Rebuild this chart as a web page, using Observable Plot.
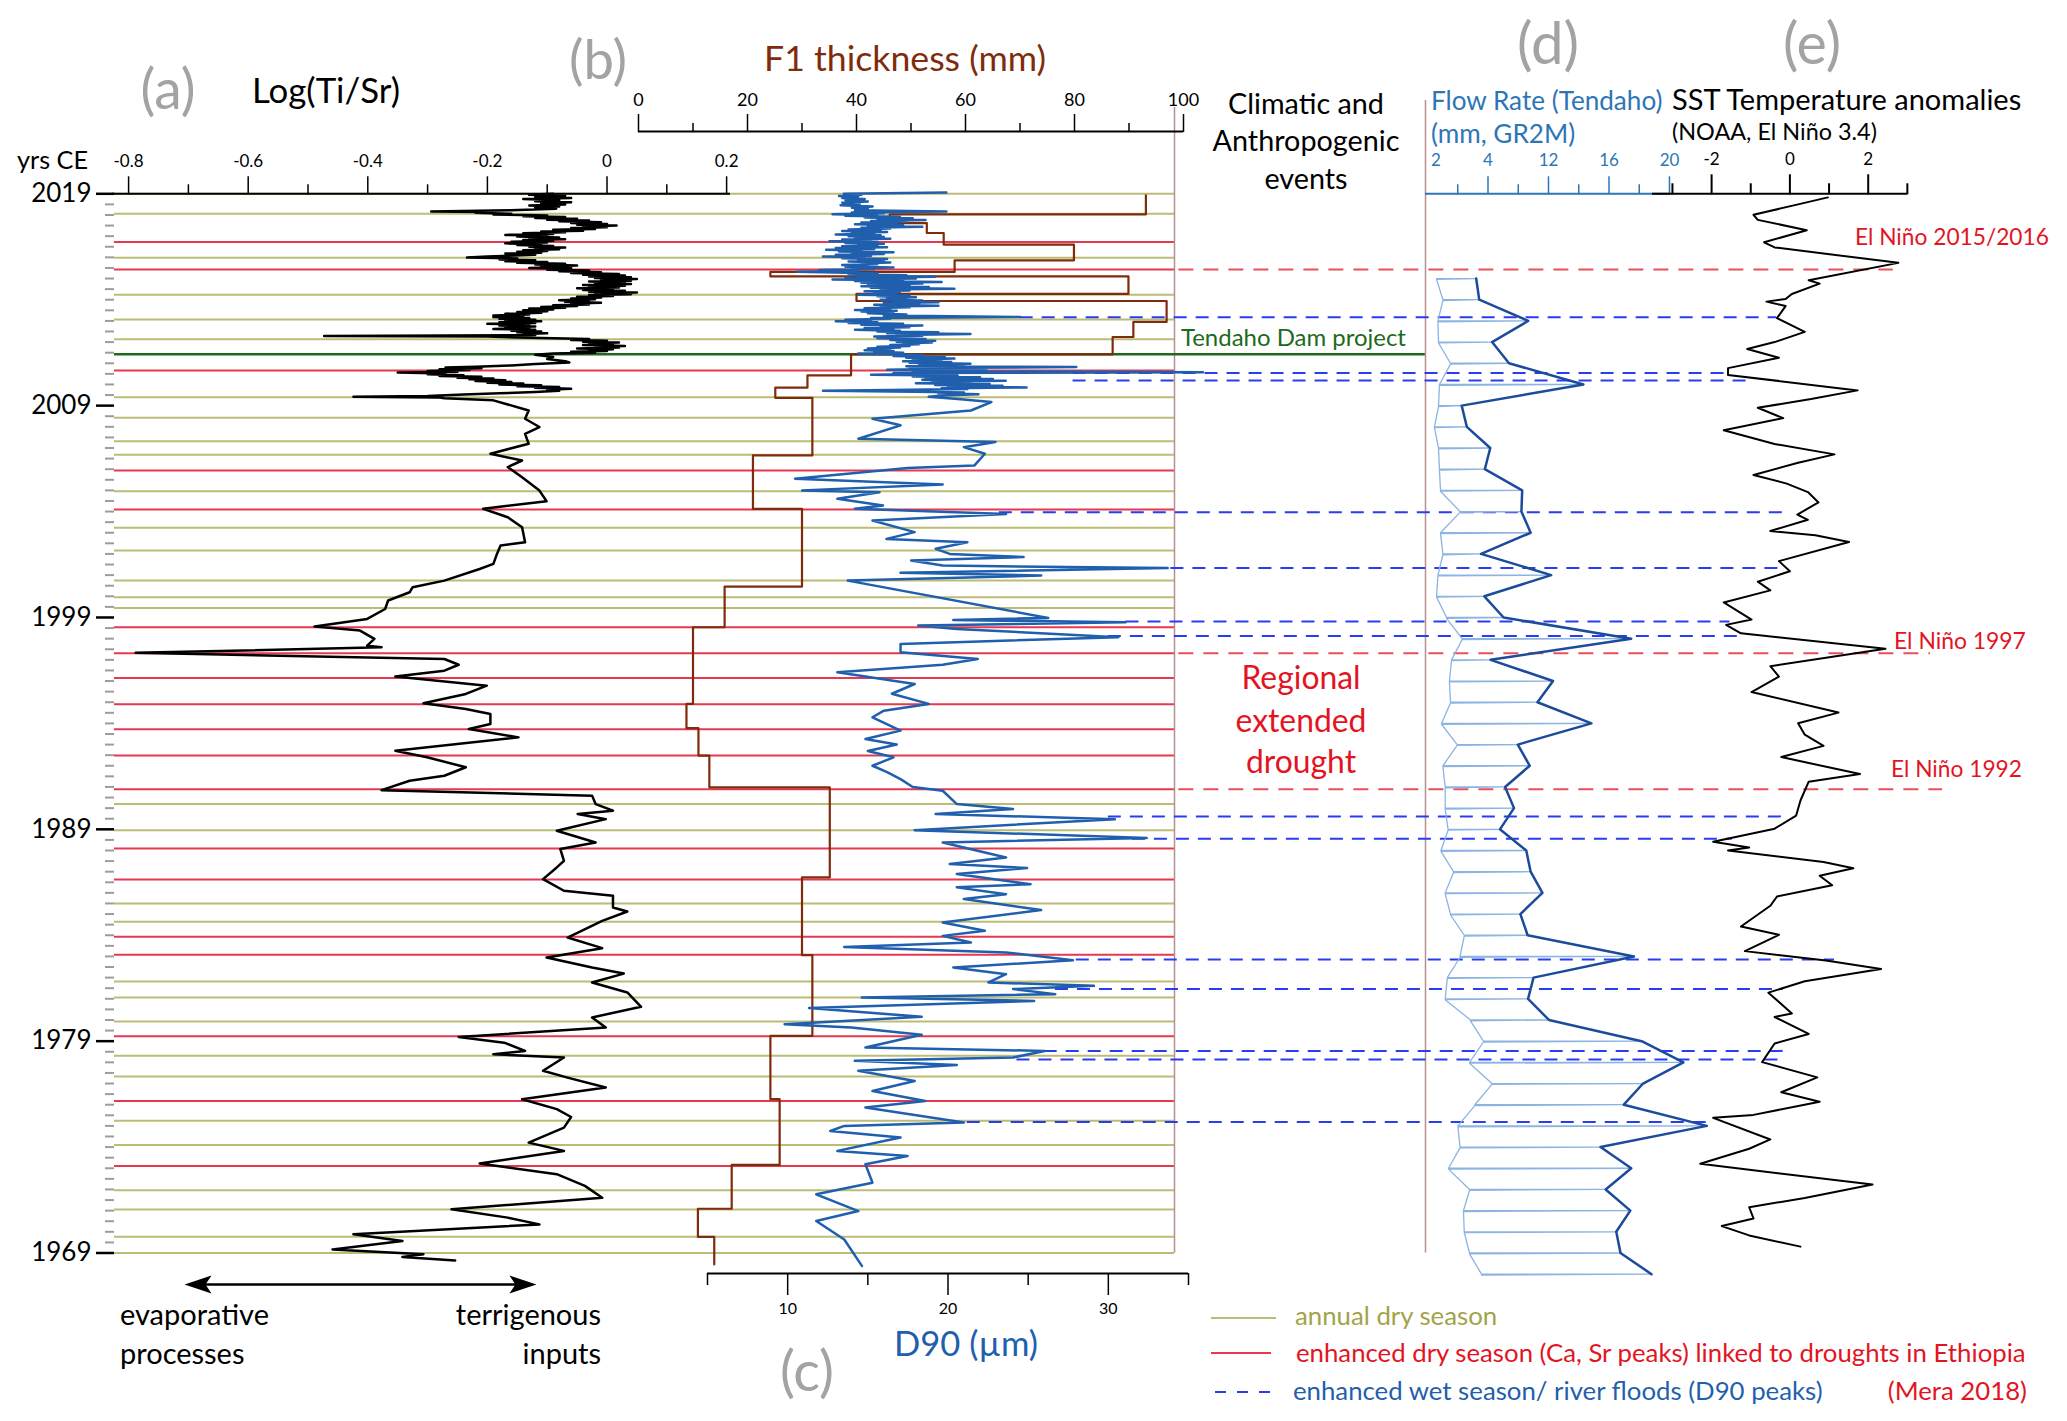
<!DOCTYPE html>
<html>
<head>
<meta charset="utf-8">
<script src="https://cdn.jsdelivr.net/npm/d3@7"></script>
<script src="https://cdn.jsdelivr.net/npm/@observablehq/plot@0.6"></script>
<style>
  body { margin: 0; background: #fff; font-family: Lato, sans-serif; }
  #wrap { position: relative; width: 2067px; height: 1421px; overflow: hidden; background: #fff; }
  #wrap svg { position: absolute; left: 0; top: 0; }
  .t { position: absolute; white-space: nowrap; line-height: 1; font-family: Lato, sans-serif; }
  .ln { position: absolute; }
</style>
</head>
<body>
<div id="wrap"></div>
<script>
// ---------------- DATA ----------------
const yearTicks = [2019, 2009, 1999, 1989, 1979, 1969];
const logTicks = [-0.8, -0.6, -0.4, -0.2, 0, 0.2];
const logMinorTicks = [-0.7, -0.5, -0.3, -0.1, 0.1];
const f1Ticks = [0, 20, 40, 60, 80, 100];
const f1MinorTicks = [10, 30, 50, 70, 90];
const d90Ticks = [10, 20, 30];
const d90MinorTicks = [5, 15, 25, 35];
const flowTickValues = [8, 12, 16, 20];
const flowTickLabels = ["4", "12", "16", "20"];
const flowMinorTicks = [6, 10, 14, 18];
const flowFirstLabel = {value: 4.56, text: "2"};
const sstTicks = [-2, 0, 2];
const sstMinorTicks = [-3, -1, 1, 3];

// season lines (years, as counted in the core)
const dryYears = [2019.0, 2018.06, 2015.98, 2014.24, 2013.07, 2012.13, 2009.40, 2008.43, 2007.32, 2006.68,
  2004.96, 2003.23, 2002.16, 2000.74, 1999.95, 1999.45, 1990.19, 1988.96, 1985.50, 1984.64,
  1981.82, 1981.06, 1979.93, 1978.31, 1977.33, 1975.24, 1974.10, 1971.96, 1971.05, 1969.77, 1969.0];
const droughtYears = [2016.73, 2015.43, 2010.66, 2005.94, 2004.10, 1998.54, 1997.31, 1996.14, 1994.90, 1993.72,
  1992.48, 1990.89, 1988.10, 1986.63, 1983.93, 1983.08, 1979.23, 1976.18, 1973.11];
const damYear = 2011.42;

// (a) Log(Ti/Sr): [year, value]
const logTiSr = [
  [2019.00,-0.09],[2018.95,-0.13],[2018.90,-0.07],[2018.85,-0.12],[2018.80,-0.06],[2018.75,-0.14],[2018.70,-0.08],[2018.65,-0.12],[2018.60,-0.06],[2018.55,-0.11],
  [2018.50,-0.07],[2018.45,-0.13],[2018.40,-0.08],[2018.35,-0.12],[2018.30,-0.085],[2018.22,-0.16],[2018.17,-0.294],[2018.14,-0.20],[2018.10,-0.22],[2018.06,-0.16],
  [2018.02,-0.19],[2017.98,-0.10],[2017.94,-0.14],[2017.90,-0.07],[2017.86,-0.12],[2017.82,-0.05],[2017.78,-0.10],[2017.74,-0.03],[2017.70,-0.08],[2017.66,-0.01],
  [2017.62,-0.06],[2017.58,0.00],[2017.54,-0.05],[2017.50,0.016],[2017.46,-0.04],[2017.42,0.00],[2017.38,-0.06],[2017.34,-0.02],[2017.30,-0.09],[2017.26,-0.04],
  [2017.22,-0.11],[2017.18,-0.07],[2017.14,-0.14],[2017.10,-0.09],[2017.06,-0.17],[2017.02,-0.10],[2016.98,-0.15],[2016.94,-0.08],[2016.90,-0.13],[2016.86,-0.07],
  [2016.82,-0.14],[2016.78,-0.09],[2016.74,-0.16],[2016.70,-0.10],[2016.66,-0.17],[2016.62,-0.11],[2016.58,-0.15],[2016.54,-0.09],[2016.50,-0.13],[2016.46,-0.07],
  [2016.42,-0.12],[2016.38,-0.08],[2016.34,-0.14],[2016.30,-0.10],[2016.26,-0.15],[2016.22,-0.11],[2016.18,-0.17],[2016.12,-0.12],[2016.04,-0.20],[2015.99,-0.234],
  [2015.95,-0.15],[2015.90,-0.18],[2015.86,-0.12],[2015.82,-0.17],[2015.78,-0.10],[2015.74,-0.15],[2015.70,-0.07],[2015.66,-0.12],[2015.62,-0.05],[2015.58,-0.11],
  [2015.54,-0.06],[2015.50,-0.13],[2015.46,-0.06],[2015.42,-0.10],[2015.38,-0.03],[2015.34,-0.08],[2015.30,-0.01],[2015.26,-0.06],[2015.22,0.02],[2015.18,-0.04],
  [2015.14,0.03],[2015.10,-0.03],[2015.06,0.04],[2015.02,-0.02],[2014.98,0.05],[2014.94,-0.01],[2014.90,0.04],[2014.86,-0.03],[2014.82,0.03],[2014.78,-0.02],
  [2014.74,0.04],[2014.70,-0.04],[2014.66,0.03],[2014.62,-0.03],[2014.58,0.02],[2014.54,-0.05],[2014.50,0.01],[2014.46,-0.04],[2014.42,0.03],[2014.38,-0.03],
  [2014.34,0.05],[2014.30,-0.02],[2014.26,0.04],[2014.22,-0.03],[2014.18,0.01],[2014.14,-0.05],[2014.10,-0.01],[2014.06,-0.06],[2014.02,-0.02],[2013.98,-0.08],
  [2013.94,-0.03],[2013.90,-0.07],[2013.86,-0.01],[2013.82,-0.06],[2013.78,-0.03],[2013.74,-0.09],[2013.70,-0.05],[2013.66,-0.11],[2013.62,-0.07],[2013.58,-0.13],
  [2013.54,-0.09],[2013.50,-0.14],[2013.46,-0.10],[2013.42,-0.15],[2013.38,-0.11],[2013.34,-0.17],[2013.30,-0.13],[2013.26,-0.19],[2013.22,-0.14],[2013.18,-0.19],
  [2013.14,-0.13],[2013.10,-0.18],[2013.06,-0.12],[2013.02,-0.17],[2012.98,-0.11],[2012.94,-0.18],[2012.90,-0.12],[2012.86,-0.20],[2012.82,-0.13],[2012.78,-0.18],
  [2012.74,-0.12],[2012.70,-0.17],[2012.66,-0.13],[2012.62,-0.19],[2012.58,-0.12],[2012.54,-0.16],[2012.50,-0.11],[2012.46,-0.15],[2012.42,-0.10],[2012.38,-0.14],
  [2012.33,-0.12],[2012.29,-0.473],[2012.26,-0.20],[2012.22,-0.15],[2012.18,-0.09],[2012.14,-0.03],[2012.10,-0.06],[2012.06,0.00],[2012.02,-0.04],[2011.98,0.02],
  [2011.94,-0.03],[2011.90,0.01],[2011.86,-0.04],[2011.82,0.03],[2011.78,-0.02],[2011.74,0.02],[2011.70,-0.05],[2011.66,0.01],[2011.62,-0.03],[2011.58,0.00],
  [2011.54,-0.06],[2011.50,-0.02],[2011.46,-0.09],[2011.40,-0.12],[2011.30,-0.09],[2011.20,-0.10],[2011.10,-0.07],[2011.04,-0.063],[2010.96,-0.12],[2010.90,-0.16],
  [2010.84,-0.22],[2010.80,-0.27],[2010.76,-0.21],[2010.72,-0.28],[2010.68,-0.23],[2010.64,-0.30],[2010.60,-0.25],[2010.56,-0.35],[2010.52,-0.27],[2010.48,-0.30],
  [2010.44,-0.24],[2010.40,-0.28],[2010.36,-0.21],[2010.32,-0.25],[2010.28,-0.19],[2010.24,-0.23],[2010.20,-0.17],[2010.16,-0.22],[2010.12,-0.16],[2010.08,-0.20],
  [2010.04,-0.14],[2010.00,-0.18],[2009.96,-0.11],[2009.92,-0.15],[2009.88,-0.08],[2009.84,-0.12],[2009.80,-0.06],[2009.75,-0.10],[2009.70,-0.08],[2009.64,-0.12],
  [2009.58,-0.18],[2009.52,-0.24],[2009.46,-0.30],[2009.42,-0.424],[2009.38,-0.28],[2009.35,-0.272],[2009.25,-0.190],[2008.77,-0.131],[2008.38,-0.137],[2007.99,-0.113],
  [2007.67,-0.137],[2007.20,-0.131],[2006.73,-0.195],[2006.41,-0.142],[2006.10,-0.166],[2005.62,-0.142],[2004.99,-0.113],[2004.49,-0.101],[2004.13,-0.207],[2003.73,-0.166],
  [2003.26,-0.142],[2002.55,-0.137],[2002.40,-0.178],[2002.00,-0.184],[2001.53,-0.190],[2001.29,-0.213],[2000.74,-0.272],[2000.43,-0.325],[2000.19,-0.330],[1999.80,-0.366],
  [1999.40,-0.371],[1998.93,-0.401],[1998.57,-0.489],[1998.38,-0.413],[1997.99,-0.389],[1997.67,-0.401],[1997.59,-0.377],[1997.33,-0.788],[1997.04,-0.272],[1996.77,-0.248],
  [1996.49,-0.272],[1996.21,-0.354],[1995.78,-0.201],[1995.39,-0.236],[1994.95,-0.307],[1994.68,-0.236],[1994.44,-0.195],[1993.97,-0.195],[1993.74,-0.231],[1993.34,-0.148],
  [1992.71,-0.354],[1992.40,-0.301],[1991.93,-0.236],[1991.53,-0.272],[1991.29,-0.330],[1990.85,-0.377],[1990.59,-0.025],[1990.19,-0.019],[1989.88,0.010],[1989.72,-0.049],
  [1989.48,-0.002],[1988.93,-0.084],[1988.38,-0.019],[1988.07,-0.078],[1987.51,-0.072],[1987.20,-0.084],[1986.65,-0.107],[1986.10,-0.072],[1985.86,0.010],[1985.31,0.010],
  [1985.12,0.034],[1984.68,-0.008],[1983.89,-0.066],[1983.39,-0.008],[1982.95,-0.101],[1982.48,-0.025],[1982.19,0.028],[1981.77,-0.025],[1981.30,0.034],[1980.62,0.057],
  [1980.12,-0.025],[1979.64,-0.002],[1979.20,-0.248],[1978.93,-0.172],[1978.54,-0.137],[1978.38,-0.190],[1978.23,-0.072],[1977.60,-0.107],[1977.28,-0.066],[1976.81,-0.002],
  [1976.26,-0.142],[1975.79,-0.084],[1975.42,-0.060],[1974.92,-0.072],[1974.21,-0.131],[1973.82,-0.072],[1973.22,-0.213],[1972.72,-0.084],[1972.17,-0.037],[1971.61,-0.008],
  [1971.06,-0.260],[1970.67,-0.166],[1970.35,-0.113],[1969.88,-0.424],[1969.57,-0.342],[1969.17,-0.459],[1968.94,-0.307],[1968.81,-0.342],[1968.65,-0.254]
];

// (b) F1 thickness (mm): layer boundaries (years) and thickness of each layer
const f1Bounds = [2018.93, 2018.03, 2017.62, 2017.15, 2016.60, 2015.86, 2015.31, 2015.10, 2014.28, 2013.94,
  2012.95, 2012.24, 2011.42, 2010.43, 2009.85, 2009.37, 2006.65, 2004.13, 2000.46, 1998.54,
  1994.92, 1993.78, 1992.48, 1990.98, 1986.73, 1983.06, 1979.25, 1976.26, 1973.16, 1971.09,
  1969.76, 1968.46];
const f1Values = [93.1, 46.1, 52.9, 56.0, 79.9, 58.0, 24.2, 89.9, 40.0, 96.9,
  90.8, 87.0, 39.0, 31.0, 25.1, 31.9, 21.0, 30.0, 15.8, 10.0,
  8.8, 11.0, 13.0, 35.1, 30.0, 31.9, 24.2, 25.9, 17.1, 10.9, 13.9];

// (c) D90 (µm): [year, value]
const d90 = [
  [2019.06,19.9],[2019.00,13.5],[2018.95,14.6],[2018.90,13.2],[2018.85,14.4],[2018.80,13.4],[2018.75,14.8],[2018.70,13.6],[2018.64,15.0],[2018.58,13.4],
  [2018.52,14.5],[2018.46,13.3],[2018.40,15.3],[2018.34,14.0],[2018.28,15.0],[2018.22,14.2],[2018.16,19.9],[2018.12,14.0],[2018.08,16.0],[2018.04,12.8],
  [2018.00,15.6],[2017.96,13.6],[2017.92,17.0],[2017.88,14.8],[2017.84,17.8],[2017.80,15.6],[2017.76,18.6],[2017.72,15.2],[2017.68,17.4],[2017.64,14.6],
  [2017.60,16.8],[2017.56,14.2],[2017.52,17.2],[2017.48,15.0],[2017.44,18.4],[2017.40,14.6],[2017.36,16.4],[2017.32,13.8],[2017.28,15.8],[2017.24,13.4],
  [2017.20,16.2],[2017.16,14.0],[2017.12,15.4],[2017.08,13.0],[2017.04,15.8],[2017.00,13.8],[2016.96,16.0],[2016.92,14.2],[2016.88,16.4],[2016.84,13.4],
  [2016.80,15.2],[2016.76,12.6],[2016.72,15.6],[2016.68,13.6],[2016.64,16.0],[2016.60,14.4],[2016.56,15.6],[2016.52,13.4],[2016.48,16.2],[2016.44,13.0],
  [2016.40,15.4],[2016.36,12.4],[2016.32,14.6],[2016.28,13.2],[2016.24,16.6],[2016.20,14.0],[2016.16,16.0],[2016.12,13.0],[2016.08,15.2],[2016.04,12.2],
  [2016.00,14.8],[2015.96,13.4],[2015.92,16.2],[2015.88,14.4],[2015.84,16.0],[2015.80,13.8],[2015.76,16.4],[2015.72,14.6],[2015.68,15.6],[2015.64,13.4],
  [2015.60,15.0],[2015.56,13.6],[2015.52,16.6],[2015.48,14.0],[2015.44,15.4],[2015.40,12.0],[2015.36,14.4],[2015.32,10.6],[2015.28,13.0],[2015.24,15.6],
  [2015.20,13.8],[2015.16,17.4],[2015.12,14.4],[2015.08,19.2],[2015.04,13.6],[2015.00,18.0],[2014.96,12.8],[2014.92,17.2],[2014.88,14.2],[2014.84,19.6],
  [2014.80,14.6],[2014.76,18.4],[2014.72,15.0],[2014.68,17.6],[2014.64,14.6],[2014.60,18.8],[2014.56,15.2],[2014.52,20.4],[2014.48,15.8],[2014.44,17.6],
  [2014.40,14.8],[2014.36,17.0],[2014.32,15.4],[2014.28,16.8],[2014.24,14.4],[2014.20,17.6],[2014.16,15.6],[2014.12,18.0],[2014.08,16.2],[2014.04,17.4],
  [2014.00,15.8],[2013.96,18.4],[2013.92,16.6],[2013.88,19.4],[2013.84,16.0],[2013.80,18.2],[2013.76,15.4],[2013.72,19.4],[2013.68,15.8],[2013.64,17.6],
  [2013.60,14.8],[2013.56,16.4],[2013.52,14.2],[2013.48,16.8],[2013.44,14.6],[2013.40,16.6],[2013.36,15.0],[2013.30,17.4],[2013.25,16.0],[2013.18,24.5],
  [2013.14,15.2],[2013.10,16.4],[2013.06,13.6],[2013.02,15.2],[2012.98,13.0],[2012.94,15.6],[2012.90,13.8],[2012.86,17.2],[2012.82,14.6],[2012.78,18.4],
  [2012.74,15.8],[2012.70,17.6],[2012.66,14.8],[2012.62,16.6],[2012.58,14.2],[2012.54,17.0],[2012.50,15.6],[2012.46,19.4],[2012.42,16.2],[2012.38,21.4],
  [2012.34,16.8],[2012.30,18.4],[2012.26,15.4],[2012.22,17.0],[2012.18,15.6],[2012.14,18.6],[2012.10,16.4],[2012.06,19.2],[2012.02,16.8],[2011.98,19.0],
  [2011.94,17.2],[2011.90,18.2],[2011.86,16.4],[2011.82,17.6],[2011.78,15.6],[2011.74,17.0],[2011.70,15.0],[2011.66,16.4],[2011.62,14.8],[2011.58,16.6],
  [2011.54,15.4],[2011.50,17.2],[2011.46,14.4],[2011.42,16.4],[2011.38,18.4],[2011.34,16.6],[2011.30,19.8],[2011.26,17.4],[2011.22,20.4],[2011.18,17.8],
  [2011.14,19.6],[2011.10,17.2],[2011.06,20.2],[2011.02,17.6],[2010.98,21.4],[2010.94,18.2],[2010.90,21.0],[2010.86,17.4],[2010.82,28.0],[2010.78,17.6],
  [2010.74,19.6],[2010.70,16.2],[2010.66,22.4],[2010.62,17.8],[2010.58,35.9],[2010.54,16.6],[2010.50,19.8],[2010.46,15.2],[2010.42,20.6],[2010.38,17.8],
  [2010.34,22.0],[2010.30,18.6],[2010.26,22.8],[2010.22,18.4],[2010.18,23.6],[2010.14,19.0],[2010.10,21.4],[2010.06,18.0],[2010.02,22.6],[2009.98,19.2],
  [2009.94,23.4],[2009.90,20.0],[2009.86,24.9],[2009.82,19.6],[2009.78,21.2],[2009.74,16.4],[2009.70,12.2],[2009.66,18.0],[2009.62,21.0],[2009.58,19.4],
  [2009.54,21.9],[2009.48,19.6],[2009.42,18.8],[2009.30,20.8],[2009.17,22.7],[2008.77,21.43],[2008.38,15.29],[2008.07,17.04],[2007.44,14.41],[2007.28,22.96],
  [2007.04,20.99],[2006.73,22.30],[2006.17,21.64],[2006.06,17.48],[2005.55,10.46],[2005.28,19.67],[2005.00,10.90],[2004.91,15.73],[2004.60,13.10],[2004.29,15.95],
  [2004.13,14.19],[2003.89,23.62],[2003.58,15.29],[2003.03,17.92],[2002.71,16.16],[2002.55,21.21],[2002.24,19.23],[2002.00,20.11],[2001.85,24.71],[2001.69,17.70],
  [2001.45,19.67],[2001.33,33.70],[2001.11,17.04],[2000.98,25.81],[2000.74,13.75],[1998.98,26.25],[1998.88,20.33],[1998.77,31.07],[1998.62,18.14],[1998.46,20.55],
  [1998.07,30.63],[1997.75,17.04],[1997.36,17.04],[1997.04,21.86],[1996.77,19.67],[1996.41,13.10],[1995.86,17.92],[1995.40,16.50],[1994.92,18.80],[1994.60,16.00],
  [1994.29,15.29],[1993.66,17.04],[1993.26,14.85],[1993.00,16.80],[1992.70,15.00],[1992.40,16.60],[1992.00,15.29],[1991.70,16.20],[1991.37,17.04],[1991.00,17.80],
  [1990.82,19.67],[1990.19,20.55],[1989.96,24.06],[1989.72,19.23],[1989.48,30.41],[1988.96,17.92],[1988.59,32.39],[1988.38,19.67],[1987.67,23.62],[1987.36,20.11],
  [1987.17,24.93],[1986.89,20.55],[1986.41,25.15],[1986.26,20.55],[1985.94,23.62],[1985.71,20.99],[1985.19,25.81],[1984.60,19.67],[1984.21,22.30],[1983.97,19.67],
  [1983.66,21.43],[1983.45,13.53],[1983.19,23.62],[1982.82,27.79],[1982.48,20.33],[1982.16,23.62],[1981.77,22.52],[1981.61,29.10],[1981.46,24.06],[1981.22,26.69],
  [1981.06,14.63],[1980.90,25.37],[1980.56,11.34],[1980.15,18.36],[1979.80,9.81],[1979.64,13.97],[1979.30,18.36],[1978.70,14.85],[1978.54,26.03],[1978.23,24.06],
  [1978.07,14.19],[1977.88,20.55],[1977.60,14.41],[1977.12,17.92],[1976.65,15.29],[1976.18,18.58],[1975.87,14.85],[1975.16,20.99],[1975.00,13.53],[1974.76,12.66],
  [1974.45,17.04],[1973.82,13.10],[1973.58,17.48],[1973.19,14.85],[1972.32,15.29],[1971.77,11.78],[1970.98,14.41],[1970.51,11.78],[1969.64,13.53],[1968.39,14.63]
];

// (d) Flow rate (Tendaho): annual peak and seasonal base, per year
const flowYear = [2015,2014,2013,2012,2011,2010,2009,2008,2007,2006,2005,2004,2003,2002,2001,2000,1999,1998,1997,1996,
  1995,1994,1993,1992,1991,1990,1989,1988,1987,1986,1985,1984,1983,1982,1981,1980,1979,1978,1977,1976,
  1975,1974,1973,1972,1971,1970,1969,1968];
const flowPeak = [7.22,7.42,10.66,8.27,9.39,14.31,6.26,6.60,8.15,7.79,10.26,10.21,10.82,7.54,12.18,7.76,9.03,17.47,8.17,12.30,
  11.27,14.84,9.97,10.76,9.13,9.72,8.79,10.53,10.82,11.60,10.14,10.62,17.65,11.01,10.65,12.03,18.16,20.92,18.25,16.98,
  22.47,15.44,17.47,15.78,17.41,16.48,16.76,18.81];
const flowBase = [4.60,5.02,4.69,4.73,5.52,4.79,4.73,4.46,4.73,4.79,4.86,6.15,4.86,5.02,4.69,4.60,5.26,6.29,5.59,5.45,
  5.52,4.93,5.96,5.02,5.17,5.17,5.36,4.89,5.72,5.17,5.52,6.43,6.15,5.31,5.17,6.84,7.70,6.78,8.26,7.13,
  6.01,6.15,5.39,6.78,6.38,6.43,6.78,7.57];

// (e) SST anomalies (NOAA, Niño 3.4)
const sstYear = [2018.83,2018.50,2018.01,2017.77,2017.28,2016.71,2016.47,2015.74,2014.92,2014.76,
  2014.27,2014.03,2013.91,2013.70,2013.13,2012.48,2012.00,2011.67,2011.26,2010.77,
  2010.45,2009.72,2009.31,2008.90,2008.41,2007.84,2007.19,2006.70,2006.30,2005.73,
  2005.32,2004.92,2004.43,2003.86,2003.61,2003.08,2002.88,2002.56,2001.66,2001.18,
  2000.69,2000.28,1999.71,1998.90,1998.65,1998.25,1997.52,1996.70,1996.21,1995.48,
  1994.51,1994.01,1993.47,1992.94,1992.41,1991.61,1991.25,1990.36,1989.65,1989.03,
  1988.41,1988.14,1988.00,1987.46,1987.16,1986.81,1986.36,1985.83,1985.39,1984.41,
  1984.02,1983.25,1982.81,1982.41,1981.83,1981.29,1980.31,1980.14,1979.34,1978.89,
  1978.01,1977.29,1976.59,1976.14,1975.52,1975.38,1974.36,1973.92,1973.21,1972.23,
  1971.60,1971.16,1970.63,1970.27,1969.83,1969.30];
const sstValue = [0.97,0.21,-0.93,-0.82,0.43,-0.66,-0.39,2.77,0.48,0.76,
  0.05,-0.11,-0.60,-0.11,-0.33,0.38,-0.39,-1.09,-0.28,-1.58,
  -1.58,1.73,0.54,-0.82,-0.17,-1.69,-0.39,1.14,0.21,-0.93,
  -0.08,0.46,0.73,0.19,0.46,-0.50,0.65,1.51,-0.28,0.00,
  -0.82,-0.50,-1.69,-0.98,-1.63,-1.25,2.44,-0.50,-0.28,-0.98,
  1.24,0.21,0.38,0.86,-0.22,1.79,0.48,0.27,0.16,-0.39,
  -1.96,-1.04,-1.58,0.86,1.62,0.76,1.08,-0.33,-0.50,-1.25,
  -0.28,-1.15,0.92,2.33,0.38,-0.55,0.05,-0.39,0.48,-0.39,
  -0.71,0.70,-0.22,0.76,-0.93,-1.96,-0.50,-1.04,-2.29,2.11,
  0.38,-1.04,-0.93,-1.74,-1.04,0.27];

// events: floods (D90 peaks) and El Niño years
const floodYear = [2013.17, 2010.54, 2010.19, 2003.97, 2001.34, 1998.81, 1998.13, 1989.61, 1988.56, 1982.85, 1981.46, 1978.54, 1978.14, 1975.18];
const floodD90 = [24.5, 27.8, 27.8, 23.2, 33.9, 31.1, 30.0, 30.0, 31.5, 28.0, 26.7, 26.0, 24.3, 21.2];
const floodSST = [-0.34, -1.64, -0.98, -0.06, -0.28, -1.53, -1.26, -0.11, -1.47, 1.14, -0.17, -0.17, -0.28, -2.12];
const ninoYear = [2015.43, 1997.31, 1990.89];
const ninoD90 = [34.4, 34.4, 34.4];
const ninoSST = [2.64, 3.59, 3.90];
const ninoLabels = ["El Niño 2015/2016", "El Niño 1997", "El Niño 1992"];
const arrowSpan = [-0.7065, -0.118]; // on the Log(Ti/Sr) axis

// ---------------- LAYOUT ----------------
const W = 2067, H = 1421, Y2019 = 193.3, Y1969 = 1252.5;
const PX_PER_YEAR = (Y1969 - Y2019) / 50;
const yearAt = px => 2019 - (px - Y2019) / PX_PER_YEAR;

const OLIVE = "#bcbc74", RED = "#e6384f", GREEN = "#1d6a1d", MAUVE = "#b88e8e", BROWN = "#7f2c0c",
      D90BLUE = "#1f5fae", FLOWDARK = "#1c4b9c", FLOWLIGHT = "#8cb4e2", FLOWAXIS = "#2e75b6",
      DASHBLUE = "#2a3cf2", DASHRED = "#e8505d", TXTRED = "#e3141f", GREY = "#a3a3a3", LEGOLIVE = "#a3a34a";

const LOG = {left: 112, right: 730, domain: [-0.8269, 0.2065]};
const F1 = {left: 638, right: 1183, domain: [0, 100]};
const D90 = {left: 707, right: 1188, domain: [5, 35]};
const FLOW = {left: 1425, right: 1669, domain: [3.868, 20]};
const SST = {left: 1652, right: 1907, domain: [-3.5096, 3.0038]};

const wrap = document.getElementById("wrap");
function panel({left, right, top = Y2019, bottom = Y1969, domain = [0, 1], xAxis = false, yAxis = false, marks}) {
  const svg = Plot.plot({
    width: W, height: H,
    marginLeft: left, marginRight: W - right, marginTop: top, marginBottom: H - bottom,
    x: xAxis ? {domain} : {domain, axis: null},
    y: yAxis ? {domain: [1969, 2019], range: [Y1969, Y2019]} : {domain: [1969, 2019], range: [Y1969, Y2019], axis: null},
    style: {background: "transparent", fontFamily: "Lato, sans-serif", overflow: "visible"},
    marks
  });
  wrap.append(svg);
}

// grid of season lines + year axis
const halfYearTicks = d3.range(1969, 2019.001, 0.5).filter(t => !yearTicks.includes(t));
panel({left: 114, right: 1174, yAxis: true, marks: [
  Plot.ruleY(dryYears, {stroke: OLIVE, strokeWidth: 2}),
  Plot.ruleY(droughtYears, {stroke: RED, strokeWidth: 2}),
  Plot.ruleX([1], {y1: yearAt(107), y2: 1969, stroke: MAUVE, strokeWidth: 1.5}),
  Plot.axisY({anchor: "left", ticks: halfYearTicks, tickSize: 9, stroke: "#9c9c9c", strokeWidth: 2, fill: "none", label: null}),
  Plot.axisY({anchor: "left", ticks: yearTicks, tickSize: 18, tickPadding: 5, fontSize: 26, strokeWidth: 2.5, tickFormat: d => String(d), label: null})
]});

// Tendaho dam line + left border of flow panel
panel({left: 114, right: 1425, marks: [
  Plot.ruleY([damYear], {stroke: GREEN, strokeWidth: 2.5}),
  Plot.ruleX([1], {y1: yearAt(100), y2: 1969, stroke: MAUVE, strokeWidth: 1.5})
]});

// (a) Log(Ti/Sr)
const logData = logTiSr.map(([year, v]) => ({year, v}));
const arrowY = yearAt(1284);
const arrowHead = {draw(ctx) { ctx.moveTo(0, 0); ctx.lineTo(9, 27); ctx.lineTo(0, 21); ctx.lineTo(-9, 27); ctx.closePath(); }};
panel({...LOG, xAxis: true, marks: [
  Plot.ruleY([2019], {stroke: "#000", strokeWidth: 2}),
  Plot.axisX({anchor: "top", ticks: logMinorTicks, tickSize: 10, fill: "none", strokeWidth: 1.5, label: null}),
  Plot.axisX({anchor: "top", ticks: logTicks, tickSize: 18, tickPadding: 9, fontSize: 17, strokeWidth: 1.5, tickFormat: d => String(d), label: null}),
  Plot.line(logData, {x: "v", y: "year", stroke: "#000", strokeWidth: 2.5, strokeLinejoin: "round"}),
  Plot.ruleY([arrowY], {x1: arrowSpan[0] + 0.02, x2: arrowSpan[1] - 0.02, stroke: "#000", strokeWidth: 2.5}),
  Plot.dot([{x: arrowSpan[0], y: arrowY, r: -90}, {x: arrowSpan[1], y: arrowY, r: 90}],
    {x: "x", y: "y", rotate: "r", symbol: arrowHead, fill: "#000", stroke: "none"})
]});

// (b) F1 thickness
const f1Points = [];
f1Values.forEach((v, i) => { f1Points.push({year: f1Bounds[i], v}, {year: f1Bounds[i + 1], v}); });
panel({...F1, top: 131, xAxis: true, marks: [
  Plot.ruleY([yearAt(131)], {stroke: "#000", strokeWidth: 2}),
  Plot.axisX({anchor: "top", ticks: f1MinorTicks, tickSize: 9, fill: "none", strokeWidth: 1.5, label: null}),
  Plot.axisX({anchor: "top", ticks: f1Ticks, tickSize: 18, tickPadding: 8, fontSize: 18, strokeWidth: 1.5, tickFormat: d => String(d), label: null}),
  Plot.line(f1Points, {x: "v", y: "year", stroke: BROWN, strokeWidth: 2.2})
]});

// (c) D90 + event lines
const d90X = d3.scaleLinear(D90.domain, [D90.left, D90.right]);
const sstX = d3.scaleLinear(SST.domain, [SST.left, SST.right]);
const toD90 = s => d90X.invert(sstX(s));
const floodData = floodYear.map((year, i) => ({year, x1: floodD90[i], x2: toD90(floodSST[i])}));
const ninoData = ninoYear.map((year, i) => ({year, x1: ninoD90[i], x2: toD90(ninoSST[i])}));
const d90Data = d90.map(([year, v]) => ({year, v}));
panel({...D90, bottom: 1273, xAxis: true, marks: [
  Plot.ruleY([yearAt(1273)], {stroke: "#000", strokeWidth: 2}),
  Plot.axisX({anchor: "bottom", ticks: d90MinorTicks, tickSize: 12, fill: "none", strokeWidth: 1.5, label: null}),
  Plot.axisX({anchor: "bottom", ticks: d90Ticks, tickSize: 22, tickPadding: 7, fontSize: 16, strokeWidth: 1.5, tickFormat: d => String(d), label: null}),
  Plot.ruleY(ninoData, {y: "year", x1: "x1", x2: "x2", stroke: DASHRED, strokeWidth: 2, strokeDasharray: "15,10"}),
  Plot.ruleY(floodData, {y: "year", x1: "x1", x2: "x2", stroke: DASHBLUE, strokeWidth: 2, strokeDasharray: "13,9"}),
  Plot.line(d90Data, {x: "v", y: "year", stroke: D90BLUE, strokeWidth: 2.5, strokeLinejoin: "round"})
]});

// (d) flow rate
const flowLight = [];
flowYear.forEach((year, i) => {
  flowLight.push({year, v: flowBase[i]}, {year, v: flowPeak[i]}, {year: year - 0.04, v: flowBase[i]});
});
const flowDark = flowYear.map((year, i) => ({year, v: flowPeak[i]}));
panel({...FLOW, xAxis: true, marks: [
  Plot.ruleY([2019], {stroke: FLOWAXIS, strokeWidth: 2}),
  Plot.axisX({anchor: "top", ticks: flowMinorTicks, tickSize: 10, fill: "none", stroke: FLOWAXIS, strokeWidth: 1.5, label: null}),
  Plot.axisX({anchor: "top", ticks: flowTickValues, tickSize: 18, tickPadding: 10, fontSize: 17, color: FLOWAXIS, strokeWidth: 1.5,
    tickFormat: d => flowTickLabels[flowTickValues.indexOf(d)], label: null}),
  Plot.axisX({anchor: "top", ticks: [flowFirstLabel.value], tickSize: 0, tickPadding: 28, fontSize: 17, color: FLOWAXIS,
    tickFormat: () => flowFirstLabel.text, label: null}),
  Plot.line(flowLight, {x: "v", y: "year", stroke: FLOWLIGHT, strokeWidth: 1.3}),
  Plot.line(flowDark, {x: "v", y: "year", stroke: FLOWDARK, strokeWidth: 2.5, strokeLinejoin: "round"})
]});

// (e) SST anomalies
const sstData = sstYear.map((year, i) => ({year, v: sstValue[i]}));
panel({...SST, xAxis: true, marks: [
  Plot.ruleY([2019], {stroke: "#000", strokeWidth: 2}),
  Plot.axisX({anchor: "top", ticks: sstMinorTicks, tickSize: 11, fill: "none", strokeWidth: 2, label: null}),
  Plot.axisX({anchor: "top", ticks: sstTicks, tickSize: 20, tickPadding: 9, fontSize: 17, strokeWidth: 2, tickFormat: d => String(d), label: null}),
  Plot.line(sstData, {x: "v", y: "year", stroke: "#000", strokeWidth: 2, strokeLinejoin: "round"})
]});

// ---------------- TEXT ----------------
const ctx = document.createElement("canvas").getContext("2d");
function fit(text, w) { ctx.font = "100px Lato"; return 100 * w / ctx.measureText(text).width; }
function label(text, {x, y, size, w, anchor = "start", color = "#000"}) {
  const fs = size || fit(text, w);
  const d = document.createElement("div");
  d.className = "t"; d.textContent = text;
  d.style.fontSize = fs + "px"; d.style.color = color;
  d.style.left = x + "px"; d.style.top = y + "px";
  const tx = anchor === "middle" ? "-50%" : anchor === "end" ? "-100%" : "0";
  d.style.transform = `translate(${tx},-50%)`;
  wrap.append(d);
  return fs;
}
function legendLine(x1, x2, y, background) {
  const d = document.createElement("div");
  d.className = "ln";
  d.style.cssText += `left:${x1}px;top:${y - 1}px;width:${x2 - x1}px;height:2px;background:${background};`;
  wrap.append(d);
}

label("yrs CE", {x: 17, y: 160, w: 71});
label("(a)", {x: 168, y: 88, w: 55, anchor: "middle", color: GREY});
label("Log(Ti/Sr)", {x: 252, y: 90, w: 148});
label("(b)", {x: 598, y: 58, w: 58, anchor: "middle", color: GREY});
label("F1 thickness (mm)", {x: 905, y: 58, w: 282, anchor: "middle", color: BROWN});
const sC = fit("Climatic and", 156);
label("Climatic and", {x: 1306, y: 103, size: sC, anchor: "middle"});
label("Anthropogenic", {x: 1306, y: 140, size: sC, anchor: "middle"});
label("events", {x: 1306, y: 178, size: sC, anchor: "middle"});
label("(d)", {x: 1548, y: 42, w: 62, anchor: "middle", color: GREY});
label("(e)", {x: 1812, y: 42, w: 58, anchor: "middle", color: GREY});
const sF = fit("Flow Rate (Tendaho)", 232);
label("Flow Rate (Tendaho)", {x: 1431, y: 100, size: sF, color: FLOWAXIS});
label("(mm, GR2M)", {x: 1431, y: 133, size: sF, color: FLOWAXIS});
label("SST Temperature anomalies", {x: 1672, y: 98, w: 351});
label("(NOAA, El Niño 3.4)", {x: 1672, y: 132, w: 205});
label("Tendaho Dam project", {x: 1181, y: 337, w: 225, color: GREEN});
label(ninoLabels[0], {x: 1855, y: 237, w: 194, color: TXTRED});
label(ninoLabels[1], {x: 1894, y: 640, w: 132, color: TXTRED});
label(ninoLabels[2], {x: 1891, y: 769, w: 131, color: TXTRED});
const sR = fit("extended", 131);
label("Regional", {x: 1301, y: 678, size: sR, anchor: "middle", color: TXTRED});
label("extended", {x: 1301, y: 721, size: sR, anchor: "middle", color: TXTRED});
label("drought", {x: 1301, y: 762, size: sR, anchor: "middle", color: TXTRED});
const sE = fit("evaporative", 149);
label("evaporative", {x: 120, y: 1313, size: sE});
label("processes", {x: 120, y: 1352, size: sE});
label("terrigenous", {x: 601, y: 1313, size: sE, anchor: "end"});
label("inputs", {x: 601, y: 1352, size: sE, anchor: "end"});
label("D90 (µm)", {x: 966, y: 1343, w: 144, anchor: "middle", color: D90BLUE});
label("(c)", {x: 807, y: 1370, w: 54, anchor: "middle", color: GREY});

// legend
const sL = fit("enhanced dry season (Ca, Sr peaks) linked to droughts in Ethiopia", 731);
legendLine(1211, 1276, 1318, OLIVE);
label("annual dry season", {x: 1295, y: 1316, size: sL, color: LEGOLIVE});
legendLine(1211, 1271, 1353, RED);
label("enhanced dry season (Ca, Sr peaks) linked to droughts in Ethiopia", {x: 1296, y: 1353, size: sL, color: TXTRED});
legendLine(1215, 1274, 1392, `repeating-linear-gradient(to right, ${DASHBLUE} 0 11px, transparent 11px 22px)`);
label("enhanced wet season/ river floods (D90 peaks)", {x: 1293, y: 1391, size: sL, color: D90BLUE});
label("(Mera 2018)", {x: 2027, y: 1391, size: sL, anchor: "end", color: TXTRED});
</script>
</body>
</html>
